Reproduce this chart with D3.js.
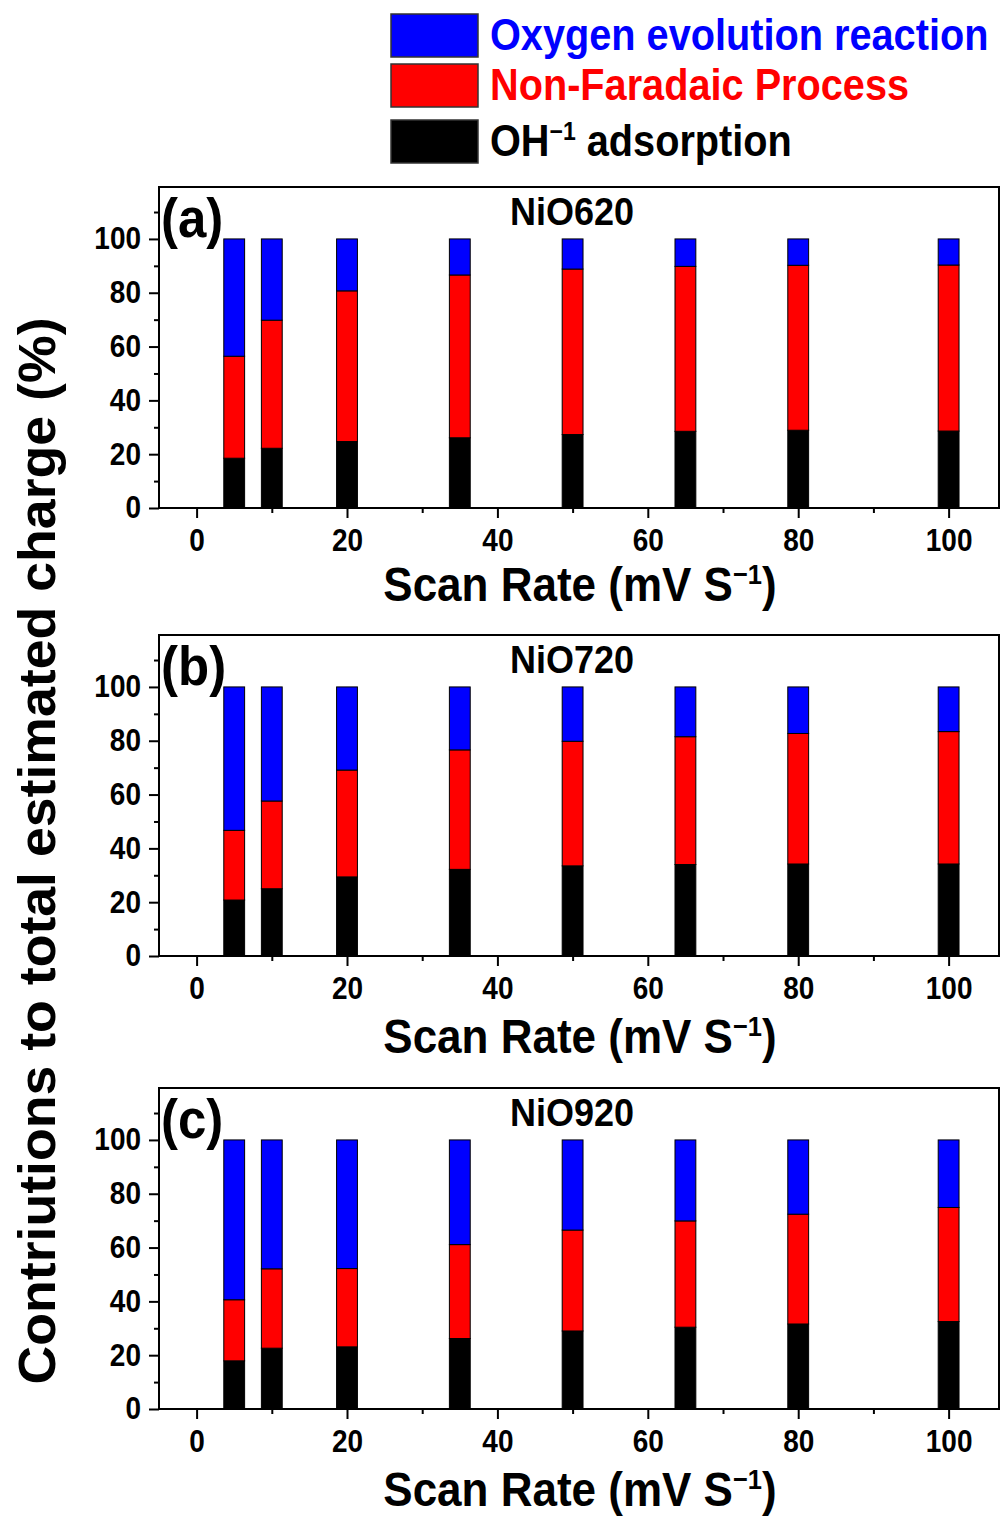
<!DOCTYPE html>
<html>
<head>
<meta charset="utf-8">
<script src="https://cdn.jsdelivr.net/npm/d3@7"></script>
<style>
  body { margin: 0; background: #fff; }
  svg text { font-family: "Liberation Sans", Arial, sans-serif; font-weight: bold; }
</style>
</head>
<body>
<div id="container"></div>
<script>
// scan rates (mV/s) shared by all three samples
const scanRates = [5, 10, 20, 35, 50, 65, 80, 100];

// % contributions
const ohNiO620  = [18.5, 22.2, 24.7, 26.1, 27.3, 28.5, 28.9, 28.6];
const nfNiO620  = [37.9, 47.6, 56.0, 60.5, 61.5, 61.3, 61.3, 61.7];
const oerNiO620 = [43.6, 30.2, 19.3, 13.4, 11.2, 10.2,  9.8,  9.7];

const ohNiO720  = [20.8, 25.0, 29.4, 32.2, 33.5, 34.0, 34.2, 34.2];
const nfNiO720  = [25.9, 32.6, 39.7, 44.4, 46.3, 47.5, 48.5, 49.2];
const oerNiO720 = [53.3, 42.4, 30.9, 23.4, 20.2, 18.5, 17.3, 16.6];

const ohNiO920  = [17.9, 22.6, 23.1, 26.2, 29.0, 30.4, 31.6, 32.5];
const nfNiO920  = [22.7, 29.5, 29.1, 34.9, 37.5, 39.5, 40.8, 42.4];
const oerNiO920 = [59.4, 47.9, 47.8, 38.9, 33.5, 30.1, 27.6, 25.1];

const sampleNames = ["NiO620", "NiO720", "NiO920"];
const panelTags = ["(a)", "(b)", "(c)"];
const xTicks = [0, 20, 40, 60, 80, 100];
const xMinor = [10, 30, 50, 70, 90];
const yTicks = [0, 20, 40, 60, 80, 100];
const yMinor = [10, 30, 50, 70, 90, 110];
const legendNames = ["Oxygen evolution reaction", "Non-Faradaic Process", "OH"];

const keys = ["oh", "nf", "oer"];
const colors = {oh: "#000000", nf: "#ff0000", oer: "#0000ff"};

const w = 1001;
const h = 1519;
const left = 159, right = 999;
const plotH = 321;
const panelTops = [187, 635, 1088];
const titleOffsets = [93, 97, 97];
const sy = 1.1; // the lettering in the figure is a bit tall

const series = [
  [ohNiO620, nfNiO620, oerNiO620],
  [ohNiO720, nfNiO720, oerNiO720],
  [ohNiO920, nfNiO920, oerNiO920]
];

const svg = d3.select("#container")
  .append("svg")
  .attr("width", w)
  .attr("height", h);

const xScale = d3.scaleLinear()
  .domain([-5, 106.7])
  .range([left, right]);

const barW = xScale(2.77) - xScale(0);

function tallText(g, x, y, size) {
  return g.append("text")
    .attr("transform", "translate(" + x + "," + y + ") scale(1," + sy + ")")
    .style("font-size", size + "px");
}

function superS(t, main, sup, after) {
  t.append("tspan").text(main);
  t.append("tspan").text(sup).style("font-size", "0.58em").attr("dy", "-0.62em");
  if (after) t.append("tspan").text(after).attr("dy", "0.36em");
}

series.forEach((s, p) => {
  const top = panelTops[p];
  const bottom = top + plotH;
  const yScale = d3.scaleLinear()
    .domain([0, 119.3])
    .range([bottom, top]);

  const rows = scanRates.map((r, i) => ({rate: r, oh: s[0][i], nf: s[1][i], oer: s[2][i]}));
  const stacked = d3.stack().keys(keys)(rows);

  const g = svg.append("g");

  g.selectAll("g.layer")
    .data(stacked)
    .enter()
    .append("g")
    .attr("class", "layer")
    .attr("fill", d => colors[d.key])
    .selectAll("rect")
    .data(d => d)
    .enter()
    .append("rect")
    .attr("x", d => xScale(d.data.rate) - barW / 2)
    .attr("y", d => yScale(d[1]))
    .attr("width", barW)
    .attr("height", d => yScale(d[0]) - yScale(d[1]))
    .attr("stroke", "#000")
    .attr("stroke-width", 1);

  // frame
  g.append("rect")
    .attr("x", left)
    .attr("y", top)
    .attr("width", right - left)
    .attr("height", plotH)
    .attr("fill", "none")
    .attr("stroke", "#000")
    .attr("stroke-width", 2);

  const yAxis = d3.axisLeft(yScale).tickValues(yTicks).tickSize(10).tickPadding(8);
  const yAxisMinor = d3.axisLeft(yScale).tickValues(yMinor).tickSize(5).tickFormat("");
  const xAxis = d3.axisBottom(xScale).tickValues(xTicks).tickSize(10).tickPadding(10);
  const xAxisMinor = d3.axisBottom(xScale).tickValues(xMinor).tickSize(5).tickFormat("");

  const ya = g.append("g").attr("transform", "translate(" + left + ",0)").call(yAxis);
  g.append("g").attr("transform", "translate(" + left + ",0)").call(yAxisMinor);
  const xa = g.append("g").attr("transform", "translate(0," + bottom + ")").call(xAxis);
  g.append("g").attr("transform", "translate(0," + bottom + ")").call(xAxisMinor);

  g.selectAll(".domain").remove();
  g.selectAll(".tick line").attr("stroke-width", 2);
  g.selectAll(".tick text")
    .attr("fill", "#000")
    .style("font-size", "28px")
    .style("font-family", null);
  ya.selectAll(".tick text").attr("transform", "scale(1," + sy + ")");
  xa.selectAll(".tick text").attr("y", 19).attr("transform", "scale(1," + sy + ")");

  // sample name and panel tag
  tallText(g, 572, top + 38, 36)
    .attr("text-anchor", "middle")
    .text(sampleNames[p]);
  tallText(g, 161, top + 50, 51)
    .text(panelTags[p]);

  // x axis title
  const xt = tallText(g, 580, bottom + titleOffsets[p], 44).attr("text-anchor", "middle");
  superS(xt, "Scan Rate (mV S", "\u22121", ")");
});

// y title
svg.append("text")
  .attr("transform", "translate(55,851) rotate(-90)")
  .attr("text-anchor", "middle")
  .style("font-size", "52px")
  .attr("textLength", 1067)
  .attr("lengthAdjust", "spacingAndGlyphs")
  .text("Contriutions to total estimated charge (%)");

// legend
const legendKeys = ["oer", "nf", "oh"];
const legendTops = [14, 64, 120];
const legend = svg.append("g");
legendKeys.forEach((k, i) => {
  legend.append("rect")
    .attr("x", 391)
    .attr("y", legendTops[i])
    .attr("width", 87)
    .attr("height", 43)
    .attr("fill", colors[k])
    .attr("stroke", "#333")
    .attr("stroke-width", 1.5);
  const t = tallText(legend, 490, legendTops[i] + 36, 39.7).attr("fill", colors[k]);
  if (k === "oh") superS(t, legendNames[i], "\u22121", " adsorption");
  else t.text(legendNames[i]);
});
</script>
</body>
</html>
